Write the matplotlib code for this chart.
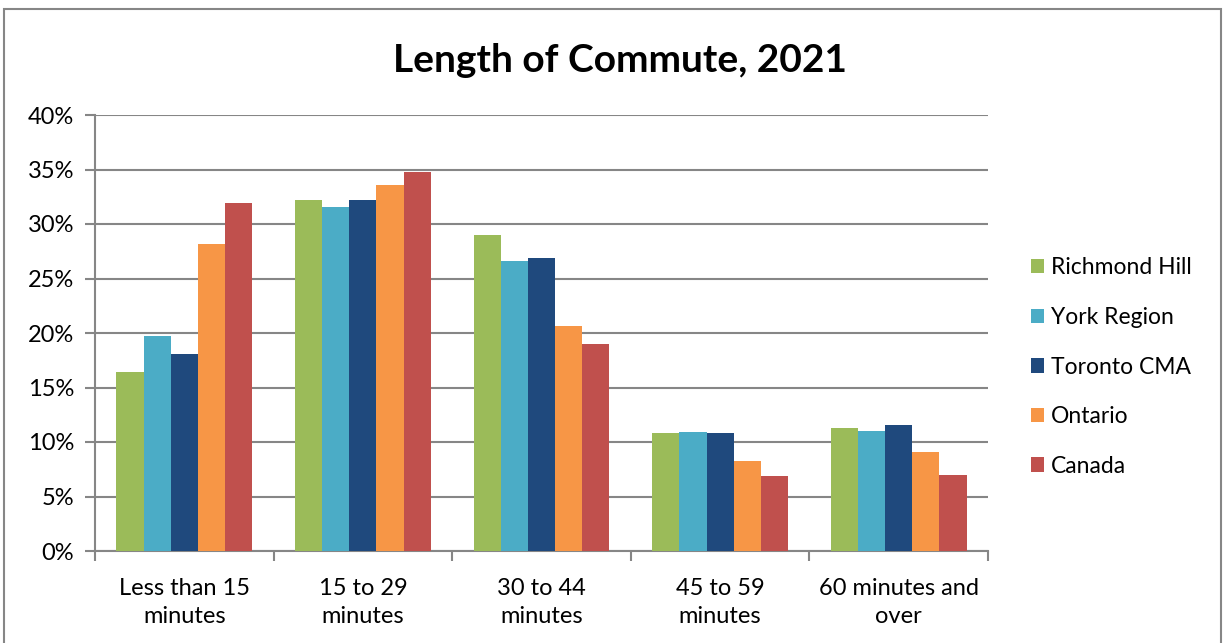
import numpy as np
import matplotlib.pyplot as plt
from matplotlib.patches import Rectangle

categories = ["Less than 15\nminutes", "15 to 29\nminutes", "30 to 44\nminutes",
              "45 to 59\nminutes", "60 minutes and\nover"]
series_names = ["Richmond Hill", "York Region", "Toronto CMA", "Ontario", "Canada"]
richmond_hill = [16.4, 32.2, 29.0, 10.8, 11.3]
york_region = [19.7, 31.6, 26.6, 10.9, 11.0]
toronto_cma = [18.1, 32.2, 26.9, 10.8, 11.6]
ontario = [28.2, 33.6, 20.6, 8.3, 9.1]
canada = [31.9, 34.75, 19.0, 6.9, 7.0]
y_ticks = [0, 5, 10, 15, 20, 25, 30, 35, 40]

colors = ["#9BBB59", "#4BACC6", "#1F497D", "#F79646", "#C0504D"]
FONT = ["Lato", "DejaVu Sans"]

def main():
    plt.rcParams["font.family"] = FONT
    fig = plt.figure(figsize=(12.26, 6.43), dpi=100)
    ax = fig.add_axes([95 / 1226, 1 - 551 / 643, 893 / 1226, 436 / 643])

    data = [richmond_hill, york_region, toronto_cma, ontario, canada]
    x = np.arange(len(categories))
    w = 0.152
    for i, (name, vals) in enumerate(zip(series_names, data)):
        ax.bar(x + (i - 2) * w, vals, w, color=colors[i], label=name, zorder=3)

    ax.set_xlim(-0.5, len(categories) - 0.5)
    ax.set_ylim(0, 40)
    ax.set_yticks(y_ticks)
    ax.set_yticklabels([f"{t}%" for t in y_ticks])
    ax.set_xticks(x)
    ax.set_xticklabels(categories)
    ax.set_xticks(np.arange(len(categories) + 1) - 0.5, minor=True)
    ax.tick_params(axis="x", which="major", length=0, labelsize=17, pad=37)
    ax.tick_params(axis="x", which="minor", length=7, width=1.5, color="#868686")
    ax.tick_params(axis="y", length=7, width=1.5, color="#868686", labelsize=17, pad=8)
    for lbl in ax.get_xticklabels():
        lbl.set_linespacing(1.45)
        lbl.set_verticalalignment("center")

    ax.grid(axis="y", color="#868686", linewidth=1.5, zorder=0)
    for s in ["top", "right"]:
        ax.spines[s].set_visible(False)
    for s in ["left", "bottom"]:
        ax.spines[s].set_color("#868686")
        ax.spines[s].set_linewidth(1.5)

    fig.legend(loc="center left", bbox_to_anchor=(1010 / 1226, 1 - 367 / 643),
               frameon=False, fontsize=16.5, handlelength=0.6, handleheight=0.6,
               handletextpad=0.3, labelspacing=1.25)

    fig.text(0.506, 1 - 60 / 643, "Length of Commute, 2021", ha="center", va="center",
             fontsize=28, fontweight="bold")

    fig.patches.append(Rectangle((4 / 1226, -0.05), 1217 / 1226, 1.05 - 9 / 643,
                                 transform=fig.transFigure, fill=False,
                                 edgecolor="#868686", linewidth=1.5))

    fig.savefig("out.png", dpi=100)
    plt.close(fig)

if __name__ == "__main__":
    main()
